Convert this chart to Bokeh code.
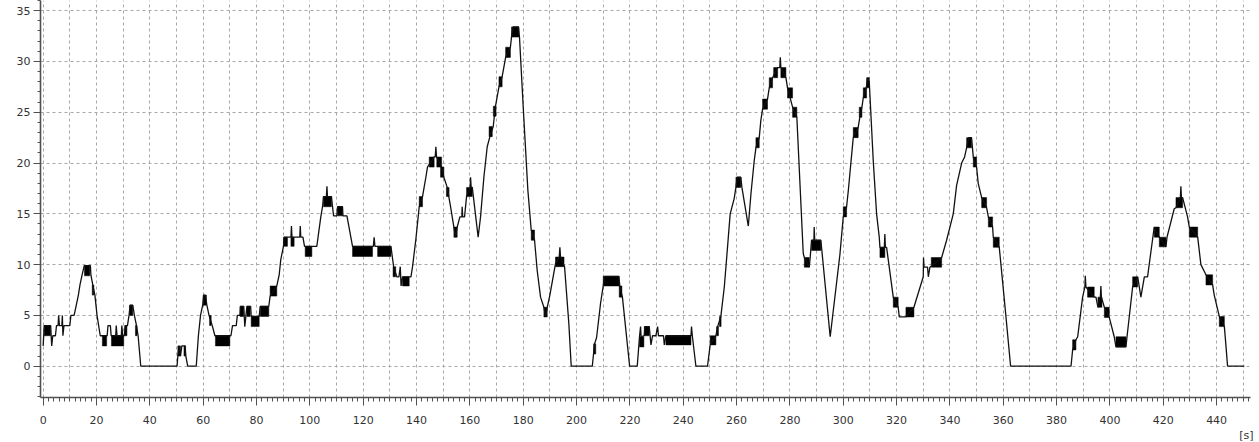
from bokeh.plotting import figure
from bokeh.models import Range1d, SingleIntervalTicker, Title, ColumnDataSource
from bokeh.embed import file_html
from bokeh.resources import INLINE

# ---- trace vertices (time [s], value) ----
TRACE_0_75 = [(0, 2), (0.4, 4), (2.8, 4), (3.0, 3), (3.2, 2), (3.6, 3), (4.6, 3), (5.0, 4), (5.6, 4), (5.8, 5),
              (6.1, 4), (7.0, 4), (7.2, 5), (7.4, 3), (7.8, 4), (10.0, 4), (10.4, 5), (11.6, 5), (12.4, 6),
              (13.2, 7), (13.8, 8), (14.6, 9), (15.4, 9.9), (17.7, 9.9), (17.9, 9), (18.6, 8), (19.4, 7),
              (20.2, 5), (21.4, 3), (22.2, 3), (24.0, 3), (24.3, 4), (25.2, 4), (25.5, 3), (27.2, 3), (27.4, 4),
              (27.7, 3), (29.3, 3), (29.5, 4), (29.8, 3), (30.4, 3), (30.8, 4), (31.6, 4), (32.2, 5), (32.6, 6),
              (33.6, 6), (34.2, 5), (35.0, 4), (35.6, 3), (36.6, 0), (50.2, 0), (50.5, 1), (51.0, 2), (51.5, 1),
              (52.0, 2), (53.2, 2), (53.5, 1), (54.2, 0), (57.4, 0), (58.2, 3), (59.0, 5), (59.8, 6), (60.2, 7),
              (60.8, 7), (61.4, 6), (62.2, 5), (63.4, 4), (64.4, 3), (70.0, 3), (70.4, 3), (71.0, 4), (72.4, 4),
              (72.8, 5), (73.8, 5)]
TRACE_75_150 = [(74.0, 5.9), (75.2, 5.9), (75.4, 4.9), (75.6, 3.9), (76.0, 4.9), (76.4, 5.9), (77.8, 5.9),
                (78.0, 4.9), (81.0, 4.9), (81.4, 5.9), (84.6, 5.9), (85.1, 6.9), (87.6, 7.9), (88.5, 9),
                (89.1, 10.5), (90.1, 11.8), (90.4, 12.7), (92.9, 12.7), (93.1, 13.8), (93.3, 12.7), (96.2, 12.7),
                (96.4, 13.8), (96.6, 12.7), (97.4, 12.7), (98.0, 11.8), (100.8, 11.8), (102.6, 11.8),
                (104.1, 14.7), (104.75, 15.7), (105.1, 16.7), (106.2, 16.7), (106.4, 17.7), (106.6, 16.7),
                (108.1, 16.7), (108.5, 15.7), (108.9, 14.8), (110.1, 14.8), (110.4, 15.7), (112.25, 15.7),
                (112.4, 14.8), (113.9, 14.8), (116.0, 11.8), (123.8, 11.8), (124.1, 12.7), (124.4, 11.8),
                (130.4, 11.8), (131.4, 9.8), (132.6, 8.8), (133.4, 8.8), (133.9, 9.8), (134.2, 7.9),
                (134.75, 8.8), (137.25, 8.8), (137.9, 8.8), (138.5, 9.8), (139.75, 12.5), (141.0, 15.7),
                (142.25, 16.7), (142.9, 17.7), (143.5, 18.6), (144.1, 19.6), (146.6, 20.6), (147.0, 20.6),
                (147.25, 21.6), (147.5, 20.6), (149.4, 19.6), (150.25, 18.6)]
TRACE_150_225 = [(151.5, 17.6), (152.75, 15.7), (154.0, 13.7), (154.6, 12.7), (155.25, 13.7), (156.25, 14.7),
                 (157.0, 14.7), (157.1, 15.7), (157.3, 14.7), (158.0, 14.7), (158.75, 16.7), (160.1, 17.6),
                 (160.25, 18.6), (160.5, 17.6), (160.9, 17.6), (163.1, 12.7), (164.0, 14.7), (165.25, 18.6),
                 (166.5, 21.6), (167.5, 22.6), (168.75, 23.6), (169.6, 25.6), (170.9, 27.5), (172.1, 28.5),
                 (173.4, 30.4), (175.2, 31.4), (175.6, 32.4), (176.2, 33.4), (178.2, 33.4), (178.6, 32.4),
                 (180.0, 25.5), (181.75, 17.3), (183.0, 13.4), (184.25, 12.4), (185.25, 9.4), (186.5, 6.8),
                 (187.75, 5.8), (188.4, 4.85), (189.0, 5.8), (190.0, 7.0), (192.1, 10.1), (193.5, 10.75),
                 (193.75, 11.7), (194.0, 10.75), (195.5, 9.8), (197.1, 4.2), (198.0, 0), (205.9, 0),
                 (206.75, 2.2), (207.5, 2.8), (209.0, 6.2), (210.0, 7.9), (210.5, 8.85), (215.9, 8.85),
                 (216.2, 7.9), (217.2, 6.8), (219.9, 0), (222.75, 0), (223.6, 2.9), (224.0, 3.9), (224.2, 2.9)]
TRACE_225_300 = [(225.4, 3.0), (225.6, 3.9), (227.25, 3.9), (227.9, 2.1), (228.5, 3.0), (229.75, 3.0),
                 (230.4, 3.9), (230.7, 3.0), (232.6, 3.0), (232.9, 2.1), (233.5, 3.0), (242.9, 3.0),
                 (243.1, 3.9), (243.4, 3.0), (244.75, 0), (249.1, 0), (250.1, 2.1), (252.25, 3.0),
                 (252.9, 3.9), (254.1, 4.9), (255.4, 7.8), (256.6, 11.7), (257.6, 15.0), (259.1, 16.5),
                 (259.75, 17.6), (260.2, 18.6), (261.6, 18.6), (262.0, 17.6), (264.4, 13.8), (265.4, 17.0),
                 (266.6, 20.2), (267.25, 21.5), (268.5, 22.5), (269.1, 24.2), (269.75, 25.3), (271.6, 26.3),
                 (272.25, 27.4), (273.5, 28.4), (275.4, 29.4), (276.2, 29.4), (276.4, 30.4), (276.6, 29.4),
                 (278.5, 28.4), (279.1, 27.4), (281.0, 25.5), (282.6, 24.5), (285.0, 11.1), (285.4, 10.7),
                 (287.25, 9.75), (287.6, 10.7), (288.1, 12.4), (289.0, 12.4), (289.1, 13.7), (289.3, 12.4),
                 (291.6, 12.4), (295.1, 2.9), (298.75, 11.0), (300.0, 14.7)]
TRACE_300_385 = [(301.25, 15.7), (301.9, 17.3), (302.5, 19.0), (303.75, 22.5), (305.6, 23.5), (306.2, 24.5),
                 (307.0, 25.5), (307.5, 26.4), (308.75, 27.6), (309.2, 28.4), (309.75, 28.0), (311.25, 20.2),
                 (312.5, 15.0), (313.5, 12.7), (313.75, 11.7), (315.4, 11.7), (315.6, 13.0), (315.8, 11.7),
                 (316.25, 11.7), (318.75, 6.8), (320.6, 5.8), (321.0, 4.85), (323.5, 4.85), (326.5, 5.8),
                 (330.0, 8.8), (330.1, 10.7), (330.3, 9.75), (331.6, 9.75), (331.9, 8.8), (332.5, 9.75),
                 (336.9, 10.7), (338.75, 12.4), (341.25, 15.0), (342.5, 17.8), (344.4, 20.0), (345.5, 20.6),
                 (346.25, 21.5), (347.0, 22.5), (348.1, 22.5), (348.75, 20.6), (350.0, 19.6), (350.6, 18.0),
                 (351.9, 16.6), (353.75, 15.6), (354.4, 14.7), (356.0, 13.7), (356.25, 12.7), (358.5, 11.7),
                 (360.6, 6.0), (362.75, 0), (385.4, 0)]
TRACE_385_450 = [(386.0, 1.6), (387.25, 2.6), (387.9, 2.9), (389.75, 6.8), (390.6, 7.8), (390.75, 8.9),
                 (391.0, 7.8), (394.1, 6.8), (394.75, 6.8), (395.5, 5.8), (396.4, 6.8), (396.6, 7.9),
                 (396.8, 6.8), (397.9, 5.8), (399.75, 4.8), (401.6, 2.9), (402.25, 1.9), (406.0, 1.9),
                 (406.4, 2.9), (408.5, 7.8), (410.4, 8.8), (411.0, 7.8), (411.6, 6.8), (412.25, 7.8),
                 (412.9, 8.8), (414.1, 8.8), (416.6, 13.7), (418.5, 12.7), (421.0, 11.75), (421.4, 12.7),
                 (424.1, 15.5), (424.75, 15.6), (426.4, 16.6), (426.6, 17.7), (426.8, 16.6), (427.25, 16.6),
                 (429.1, 14.7), (429.75, 13.7), (432.9, 12.7), (434.1, 10.0), (436.0, 9.0), (438.5, 8.0),
                 (439.1, 7.0), (441.0, 4.9), (442.9, 3.9), (443.5, 2.0), (444.1, 0), (450.4, 0)]

# ---- rapid-flicker bands (start, end, low, high) ----
BANDS_0_75 = [(0.4, 2.8, 3, 4), (15.5, 17.5, 8.9, 9.9), (18.4, 19.0, 7, 8), (22.2, 23.8, 2, 3),
              (25.6, 30.2, 2, 3), (30.6, 31.4, 3, 4), (32.4, 33.6, 5, 6), (34.6, 35.2, 3, 4),
              (50.5, 51.5, 1, 2), (52.8, 53.4, 1, 2), (60.0, 61.2, 6, 7), (62.4, 63.0, 4, 5),
              (64.6, 70.0, 2, 3)]
BANDS_75_150 = [(73.8, 75.2, 4.9, 5.9), (76.4, 77.6, 4.9, 5.9), (78.0, 81.0, 3.9, 4.9), (81.4, 84.6, 4.9, 5.9),
                (85.1, 87.6, 6.9, 7.9), (90.1, 91.6, 11.8, 12.7), (92.9, 94.1, 11.8, 12.7),
                (98.25, 100.75, 10.8, 11.8), (105.1, 108.1, 15.7, 16.7), (110.4, 112.25, 14.8, 15.7),
                (116.0, 123.5, 10.8, 11.8), (125.4, 130.4, 10.8, 11.8), (131.2, 132.2, 8.8, 9.8),
                (134.75, 137.25, 7.9, 8.8), (141.0, 142.25, 15.7, 16.7), (144.75, 146.6, 19.6, 20.6),
                (147.6, 149.4, 19.6, 20.6), (149.0, 150.25, 18.6, 19.6)]
BANDS_150_225 = [(151.2, 152.2, 16.7, 17.6), (154.0, 155.25, 12.7, 13.7), (158.75, 160.9, 16.7, 17.6),
                 (167.2, 168.4, 22.6, 23.6), (168.8, 169.8, 24.6, 25.6), (170.9, 172.1, 27.5, 28.5),
                 (173.4, 175.2, 30.4, 31.4), (175.6, 178.4, 32.4, 33.4), (183.0, 184.25, 12.4, 13.4),
                 (187.75, 189.0, 4.85, 5.8), (192.1, 195.3, 9.8, 10.75), (206.4, 207.2, 1.2, 2.2),
                 (210.0, 215.9, 7.9, 8.85), (216.0, 217.0, 6.8, 7.9), (223.6, 225.25, 1.9, 2.9)]
BANDS_225_300 = [(225.4, 227.25, 3.0, 3.9), (233.5, 242.9, 2.1, 3.0), (250.1, 252.25, 2.1, 3.0),
                 (252.5, 253.2, 3.0, 3.9), (253.6, 254.2, 3.9, 4.9), (259.75, 261.6, 17.6, 18.6),
                 (267.25, 268.5, 21.5, 22.5), (269.75, 271.6, 25.3, 26.3), (272.25, 273.5, 27.4, 28.4),
                 (273.9, 275.4, 28.4, 29.4), (276.6, 278.5, 28.4, 29.4), (279.1, 281.0, 26.4, 27.4),
                 (281.0, 282.6, 24.5, 25.5), (285.4, 287.25, 9.75, 10.7), (288.1, 291.6, 11.4, 12.4)]
BANDS_300_385 = [(300.0, 301.25, 14.7, 15.7), (303.75, 305.6, 22.5, 23.5), (306.0, 307.0, 24.5, 25.5),
                 (307.5, 308.75, 26.4, 27.4), (308.75, 309.75, 27.4, 28.4), (313.75, 315.6, 10.7, 11.7),
                 (318.75, 320.6, 5.8, 6.8), (323.5, 326.5, 4.85, 5.8), (333.0, 336.9, 9.75, 10.7),
                 (346.25, 348.1, 21.5, 22.5), (348.75, 350.0, 19.6, 20.6), (351.9, 353.75, 15.6, 16.6),
                 (354.4, 356.0, 13.7, 14.7), (356.25, 358.5, 11.7, 12.7)]
BANDS_385_450 = [(386.0, 387.25, 1.6, 2.6), (391.6, 394.1, 6.8, 7.8), (395.5, 397.0, 5.8, 6.8),
                 (397.9, 399.75, 4.8, 5.8), (402.25, 406.0, 1.9, 2.9), (408.5, 410.4, 7.8, 8.8),
                 (416.6, 418.5, 12.7, 13.7), (418.5, 421.0, 11.75, 12.7), (424.75, 427.25, 15.6, 16.6),
                 (429.75, 432.9, 12.7, 13.7), (436.0, 438.5, 8.0, 9.0), (441.0, 442.9, 3.9, 4.9)]

X_UNIT_LABEL = "[s]"

trace = TRACE_0_75 + TRACE_75_150 + TRACE_150_225 + TRACE_225_300 + TRACE_300_385 + TRACE_385_450
bands = BANDS_0_75 + BANDS_75_150 + BANDS_150_225 + BANDS_225_300 + BANDS_300_385 + BANDS_385_450

line_src = ColumnDataSource(dict(t=[a for a, b in trace], v=[b for a, b in trace]))
band_src = ColumnDataSource(dict(l=[b[0] for b in bands], r=[b[1] for b in bands],
                                 lo=[b[2] for b in bands], hi=[b[3] for b in bands]))

p = figure(frame_width=1210, frame_height=397, output_backend="svg", toolbar_location=None,
           x_range=Range1d(-1.0, 452.7), y_range=Range1d(-3.08, 36.0),
           min_border_left=40, min_border_right=8, min_border_top=0, min_border_bottom=44)
p.outline_line_color = None
p.background_fill_color = "white"
p.border_fill_color = "white"

p.quad(left="l", right="r", bottom="lo", top="hi", source=band_src, fill_color="#000000",
       line_color="#000000", line_width=0.5)
p.line("t", "v", source=line_src, line_color="#111111", line_width=1.3)

p.xaxis.ticker = SingleIntervalTicker(interval=20, num_minor_ticks=10)
p.yaxis.ticker = SingleIntervalTicker(interval=5, num_minor_ticks=5)
p.xgrid.ticker = SingleIntervalTicker(interval=10)
p.ygrid.ticker = SingleIntervalTicker(interval=5)

for g in (p.xgrid, p.ygrid):
    g.grid_line_color = "#a8a8a8"
    g.grid_line_dash = "3 3"
    g.grid_line_width = 1

for ax in (p.xaxis, p.yaxis):
    ax.axis_line_color = "#505050"
    ax.axis_line_width = 1.6
    ax.major_tick_line_color = "#505050"
    ax.minor_tick_line_color = "#505050"
    ax.major_tick_in = 0
    ax.minor_tick_in = 0
    ax.major_label_text_font = "DejaVu Sans"
    ax.major_label_text_font_size = "11px"
    ax.major_label_text_color = "#333333"

p.xaxis.major_tick_out = 8
p.xaxis.minor_tick_out = 4
p.xaxis.major_label_standoff = 10
p.yaxis.major_tick_out = 7
p.yaxis.minor_tick_out = 3
p.yaxis.major_label_standoff = 3

p.add_layout(Title(text=X_UNIT_LABEL, align="right", offset=-3, standoff=0,
                   text_font="DejaVu Sans", text_font_size="11px", text_font_style="normal",
                   text_color="#333333"), "below")

open("out.html", "w").write(file_html(p, INLINE))
